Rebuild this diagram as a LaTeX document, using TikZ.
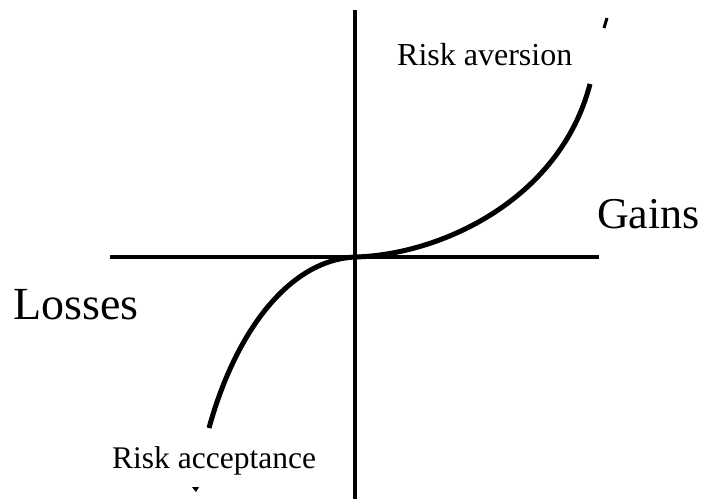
\documentclass[tikz,border=0pt]{standalone}
\usepackage{fontspec}
\setmainfont{Liberation Serif}
\usepackage{tikz}
\usetikzlibrary{positioning}

\begin{document}
\begin{tikzpicture}[
    x=1pt, y=-1pt,
    axis/.style={line width=4.5pt},
    curve/.style={line width=5pt},
    bigtext/.style={font=\fontsize{46}{50}\selectfont, inner sep=0pt, anchor=base west},
    smalltext/.style={font=\fontsize{32}{36}\selectfont, inner sep=0pt, anchor=base west},
    tick/.style={line width=3pt},
]
\useasboundingbox (0,0) rectangle (709,499);

% Axes
\coordinate (origin) at (355,257);
\coordinate (ytop) at (355,10);
\coordinate (ybot) at (355,499);
\coordinate (xleft) at (110,257);
\coordinate (xright) at (599,257);
\draw[axis] (xleft) -- (xright);
\draw[axis] (ytop) -- (ybot);

% Value curve
\coordinate (gainend) at (590,84);
\coordinate (lossend) at (209,428);
\draw[curve] (lossend) .. controls (236,330) and (290,260) .. (origin)
    .. controls (440,255) and (560,200) .. (gainend);

% Labels
\node[smalltext] (aversion) at (397,65) {Risk aversion};
\node[font=\fontsize{44}{50}\selectfont, inner sep=0pt, anchor=base west] (gains) at (597,228) {Gains};
\node[bigtext] (losses) at (13,319) {Losses};
\node[font=\fontsize{31.5}{36}\selectfont, inner sep=0pt, anchor=base west] (acceptance) at (112,468) {Risk acceptance};

% Stray marks
\draw[tick] (607,18) -- (604,28);
\fill (192,487) -- (199,487) -- (196,492) -- cycle;

\end{tikzpicture}
\end{document}
